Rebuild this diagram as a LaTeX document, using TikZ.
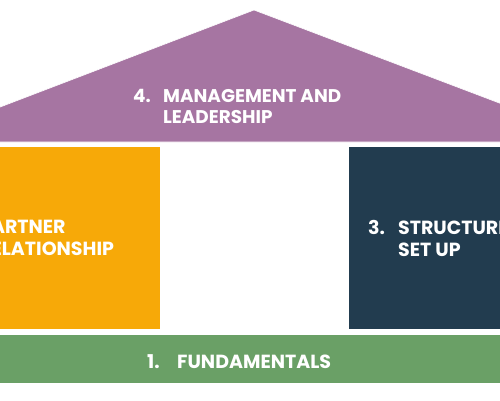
\documentclass[tikz,border=0pt]{standalone}
\usepackage{fontspec}
\setmainfont{Poppins}
\definecolor{RoofPurple}{HTML}{A675A2}
\definecolor{PillarOrange}{HTML}{F7A908}
\definecolor{PillarNavy}{HTML}{223C4F}
\definecolor{BaseGreen}{HTML}{6AA066}
\tikzset{
  part/.style={rectangle,draw=white,line width=0.6pt,inner sep=0pt},
  lbl/.style={text=white,font=\fontsize{19}{21.5}\selectfont\bfseries,align=left,inner sep=0pt,anchor=west},
}
\newcommand\numtag[1]{\makebox[30pt][l]{#1}}
\newcommand\numgap{\hspace*{30pt}}
\begin{document}
\begin{tikzpicture}[x=1pt,y=-1pt]
\useasboundingbox (0,0) rectangle (500,400);
\clip (0,0) rectangle (500,400);
% -roof-
\path[fill=RoofPurple,draw=white,line width=0.6pt] (-90,142) -- (-60,130) -- (254,10) -- (560,126) -- (590,142) -- cycle;
\node[lbl,font=\fontsize{18.4}{21.5}\selectfont\bfseries] (mgmt) at (133,106.5) {\numtag{4.}MANAGEMENT AND\\\numgap LEADERSHIP};
% -pillars-
\node[part,fill=PillarOrange,minimum width=180pt,minimum height=183pt] (partner) at (70,237.5) {};
\node[lbl] (partnerlbl) at (-51,237.5) {\numtag{2.}PARTNER\\\numgap RELATIONSHIP};
\node[part,fill=PillarNavy,minimum width=172pt,minimum height=183pt] (struct) at (434,237.5) {};
\node[lbl] (structlbl) at (368,238.5) {\numtag{3.}STRUCTURE\\\numgap SET UP};
% -base-
\node[part,fill=BaseGreen,minimum width=520pt,minimum height=49pt] (fund) at (250,358.5) {};
\node[lbl] (fundlbl) at (147,362) {\numtag{1.}FUNDAMENTALS};
\end{tikzpicture}
\end{document}
